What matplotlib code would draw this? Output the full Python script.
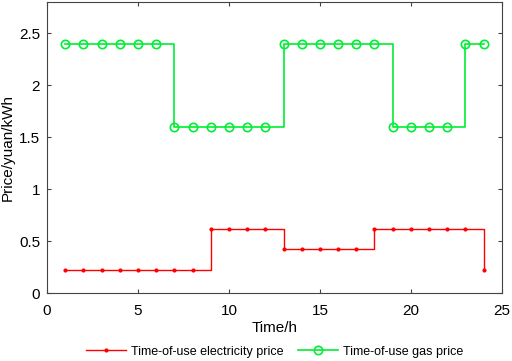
import numpy as np
import matplotlib.pyplot as plt

plt.rcParams['font.family'] = ['Liberation Sans', 'DejaVu Sans']

hours = list(range(1, 25))
elec_price = [0.22] * 8 + [0.62] * 4 + [0.42] * 5 + [0.62] * 6 + [0.22]
gas_price = [2.4] * 6 + [1.6] * 6 + [2.4] * 6 + [1.6] * 4 + [2.4] * 2

fig = plt.figure(figsize=(5.12, 3.61), dpi=100)
ax = fig.add_axes([0.092, 0.188, 0.888, 0.806])

ax.step(hours, elec_price, where='post', color='#ff0000', lw=1.0)
ax.plot(hours, elec_price, ls='none', marker='.', ms=4, color='#ff0000')
ax.step(hours, gas_price, where='post', color='#00ee33', lw=1.2)
ax.plot(hours, gas_price, ls='none', marker='o', ms=6, mfc='none', mew=1.2, color='#00ee33')

# legend handles
h1, = ax.plot([], [], color='#ff0000', lw=1.0, marker='.', ms=4, label='Time-of-use electricity price')
h2, = ax.plot([], [], color='#00ee33', lw=1.2, marker='o', ms=6, mfc='none', mew=1.2, label='Time-of-use gas price')

ax.set_xlim(0, 25)
ax.set_ylim(0, 2.8)
ax.set_xticks([0, 5, 10, 15, 20, 25])
ax.set_yticks([0, 0.5, 1, 1.5, 2, 2.5])
ax.set_yticklabels(['0', '0.5', '1', '1.5', '2', '2.5'])
ax.tick_params(direction='in', top=True, right=True, labelsize=11, length=3, color='#444444')
ax.tick_params(axis='x', pad=8)
ax.tick_params(axis='y', pad=5)
for s in ax.spines.values():
    s.set_color('#444444')
ax.set_xlabel('Time/h', fontsize=11, labelpad=2)
ax.set_ylabel('Price/yuan/kWh', fontsize=11, labelpad=3)

fig.legend(handles=[h1, h2], loc='center', ncol=2, frameon=False,
           bbox_to_anchor=(0.536, 0.026), fontsize=9, handlelength=3.2,
           columnspacing=1.2, handletextpad=0.4)

fig.savefig('out.png', dpi=100)
